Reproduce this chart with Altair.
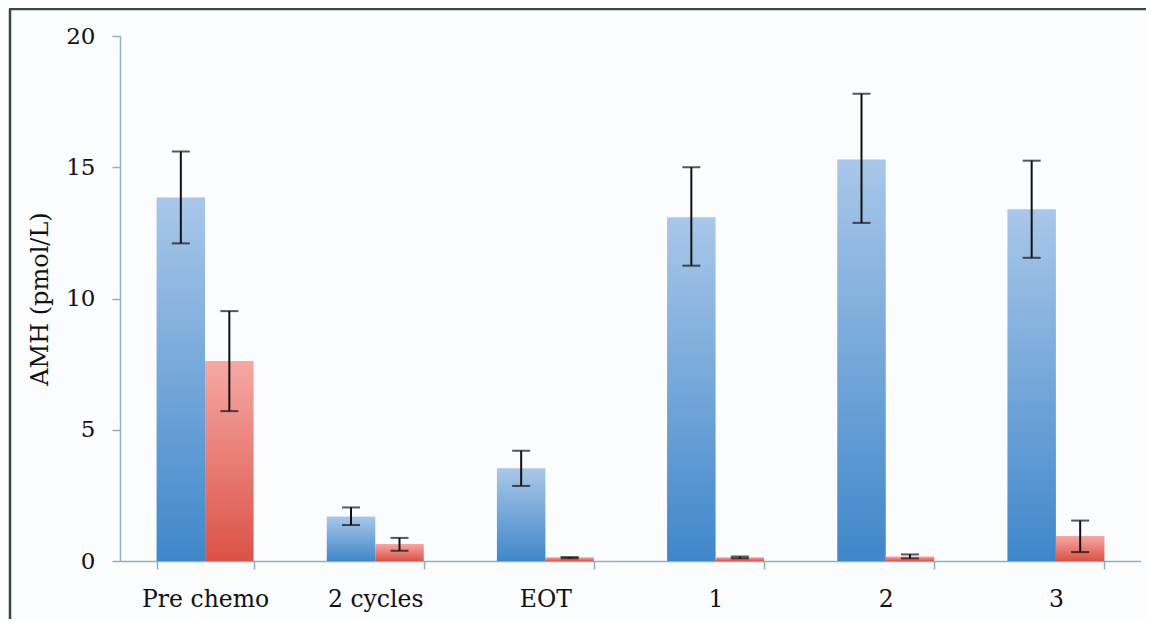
import altair as alt
import pandas as pd

categories = ["Pre chemo", "2 cycles", "EOT", "1", "2", "3"]
series_names = ["Series 1", "Series 2"]
blue_values = [13.85, 1.70, 3.53, 13.10, 15.30, 13.40]
blue_low = [12.10, 1.37, 2.86, 11.25, 12.88, 11.55]
blue_high = [15.60, 2.04, 4.20, 15.00, 17.80, 15.25]
red_values = [7.62, 0.65, 0.14, 0.14, 0.17, 0.95]
red_low = [5.71, 0.39, 0.10, 0.10, 0.10, 0.34]
red_high = [9.52, 0.88, 0.15, 0.17, 0.25, 1.54]

rows = []
for i, c in enumerate(categories):
    rows.append({"cat": c, "series": series_names[0], "value": blue_values[i], "lo": blue_low[i], "hi": blue_high[i]})
    rows.append({"cat": c, "series": series_names[1], "value": red_values[i], "lo": red_low[i], "hi": red_high[i]})
df = pd.DataFrame(rows)

FONT = "DejaVu Serif"
W, H = 1021, 525

blue_grad = alt.Gradient(
    gradient="linear", x1=0, x2=0, y1=0, y2=1,
    stops=[alt.GradientStop(color="#a9c7e9", offset=0), alt.GradientStop(color="#3f87ca", offset=1)],
)
red_grad = alt.Gradient(
    gradient="linear", x1=0, x2=0, y1=0, y2=1,
    stops=[alt.GradientStop(color="#f6a8a4", offset=0), alt.GradientStop(color="#dc5246", offset=1)],
)

x_enc = alt.X(
    "cat:N", sort=categories, title=None,
    scale=alt.Scale(paddingInner=0.43, paddingOuter=0.215),
    axis=alt.Axis(labelAngle=0, labelFont=FONT, labelFontSize=23.5, labelColor="#111111",
                  labelPadding=18, tickBand="extent", tickSize=8, tickColor="#8db0bf",
                  domainColor="#8db0bf", domainWidth=1.5, tickWidth=1.5),
)
xoff = alt.XOffset("series:N", sort=series_names, scale=alt.Scale(paddingInner=0, paddingOuter=0))
y_enc = alt.Y(
    "value:Q", scale=alt.Scale(domain=[0, 20], nice=False),
    axis=alt.Axis(values=[0, 5, 10, 15, 20], title="AMH (pmol/L)", grid=False,
                  labelFont=FONT, labelFontSize=23, labelColor="#111111", labelPadding=17,
                  tickSize=8, tickColor="#8db0bf", domainColor="#8db0bf", domainWidth=1.5, tickWidth=1.5,
                  titleFont=FONT, titleFontSize=24, titleFontWeight="normal", titleColor="#111111",
                  titleX=-73, titleY=H / 2, titleAngle=270, titleAlign="center", titleBaseline="alphabetic"),
)

base = alt.Chart(df)

bars_blue = base.transform_filter(alt.datum.series == series_names[0]).mark_bar(
    fill=blue_grad).encode(x=x_enc, xOffset=xoff, y=y_enc)
bars_red = base.transform_filter(alt.datum.series == series_names[1]).mark_bar(
    fill=red_grad).encode(x=x_enc, xOffset=xoff, y="value:Q")

err_rule = base.mark_rule(color="#111111", strokeWidth=2).encode(
    x=alt.X("cat:N", sort=categories), xOffset=xoff, y="lo:Q", y2="hi:Q")
cap_hi = base.mark_tick(color="#111111", thickness=2, size=18, orient="horizontal").encode(
    x=alt.X("cat:N", sort=categories), xOffset=xoff, y="hi:Q")
cap_lo = base.mark_tick(color="#111111", thickness=2, size=18, orient="horizontal").encode(
    x=alt.X("cat:N", sort=categories), xOffset=xoff, y="lo:Q")

frame_left = alt.Chart(pd.DataFrame({"a": [0]})).mark_rule(color="#3a4747", strokeWidth=2.5).encode(
    x=alt.value(-110), y=alt.value(-27), y2=alt.value(H + 80))
frame_top = alt.Chart(pd.DataFrame({"a": [0]})).mark_rule(color="#3a4747", strokeWidth=2.5).encode(
    x=alt.value(-111), x2=alt.value(W + 40), y=alt.value(-27))

chart = alt.layer(bars_blue, bars_red, err_rule, cap_hi, cap_lo, frame_left, frame_top).properties(
    width=W, height=H,
    autosize=alt.AutoSizeParams(type="none"),
    padding={"left": 112, "top": 28, "right": 5, "bottom": 58},
    background="#fbfcfe",
).configure_view(stroke=None)

chart.save("out.html", embed_options={"renderer": "svg", "actions": False})
